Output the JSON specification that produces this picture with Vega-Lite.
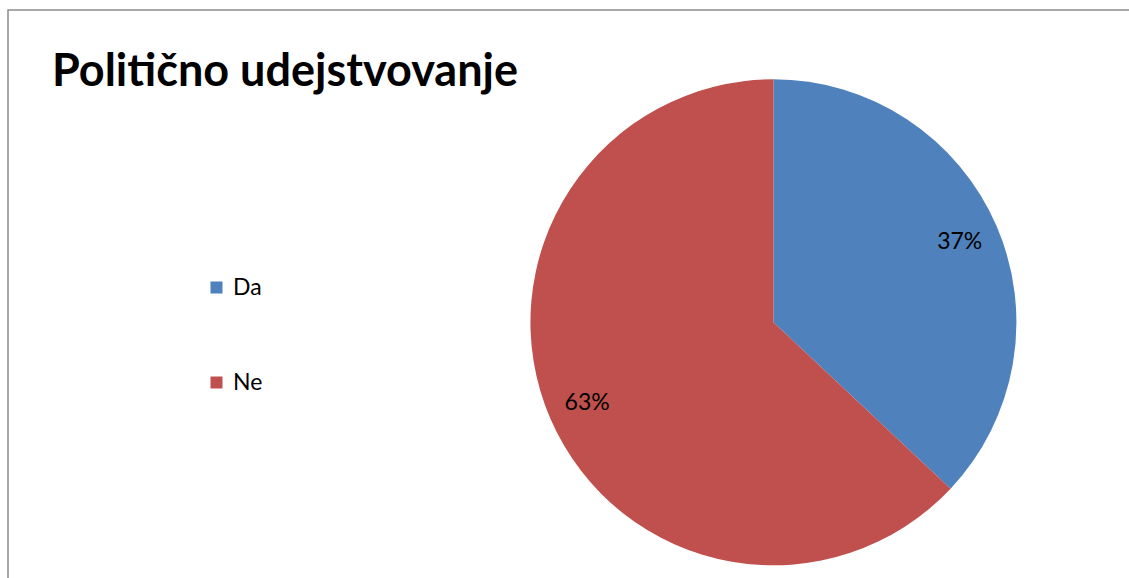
{
  "$schema": "https://vega.github.io/schema/vega-lite/v6.json",
  "width": 1129,
  "height": 578,
  "autosize": {"type": "fit", "contains": "padding"},
  "padding": {"left": 8, "top": 10, "right": -3, "bottom": -3},
  "background": "white",
  "config": {
    "view": {"stroke": "#8c8c8c", "strokeWidth": 1.5},
    "font": "Lato"
  },
  "title": {
    "text": "Politično udejstvovanje",
    "anchor": "start",
    "frame": "group",
    "orient": "top",
    "fontSize": 45,
    "fontWeight": "bold",
    "font": "Lato",
    "color": "#000000",
    "baseline": "alphabetic",
    "offset": -121,
    "dx": 44
  },
  "data": {
    "values": [
      {"odgovor": "Da", "delez": 0.37},
      {"odgovor": "Ne", "delez": 0.63}
    ]
  },
  "encoding": {
    "theta": {"field": "delez", "type": "quantitative", "stack": true},
    "order": {"field": "odgovor", "sort": "ascending"},
    "x": {"datum": 0.681, "type": "quantitative", "scale": {"domain": [0, 1]}, "axis": null},
    "y": {"datum": 0.453, "type": "quantitative", "scale": {"domain": [0, 1]}, "axis": null}
  },
  "layer": [
    {
      "mark": {"type": "arc", "outerRadius": 243},
      "encoding": {
        "color": {
          "field": "odgovor",
          "type": "nominal",
          "scale": {"domain": ["Da", "Ne"], "range": ["#4F81BD", "#C0504D"]},
          "legend": {
            "orient": "none",
            "legendX": 197,
            "legendY": 266,
            "title": null,
            "symbolType": "square",
            "symbolSize": 144,
            "symbolStrokeWidth": 0,
            "labelFontSize": 23,
            "labelFont": "Lato",
            "labelColor": "#000000",
            "labelOffset": 5,
            "rowPadding": 71
          }
        }
      }
    },
    {
      "mark": {"type": "text", "radius": 203, "fontSize": 23, "font": "Lato", "color": "#000000"},
      "encoding": {
        "text": {"field": "delez", "type": "quantitative", "format": ".0%"}
      }
    }
  ]
}
